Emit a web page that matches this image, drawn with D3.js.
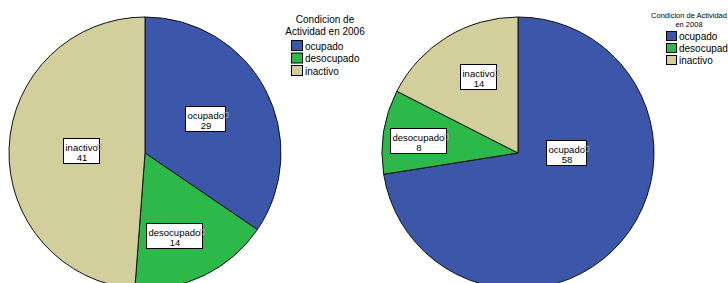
<!DOCTYPE html>
<html><head>
<meta charset="utf-8">
<title>Condicion de Actividad</title>
<script src="https://d3js.org/d3.v7.min.js"></script>
<style>
body { margin: 0; background: #fff; }
svg { display: block; font-family: 'Liberation Sans', Arial, sans-serif; }
</style>
</head>
<body>
<div id="chart"></div>
<script>
// categories and counts
var categories = ["ocupado", "desocupado", "inactivo"];
var values2006 = [29, 14, 41];
var values2008 = [58, 8, 14];
var titles = [["Condicion de", "Actividad en 2006"], ["Condicion de Actividad", "en 2008"]];
var colors = ["#3c57a9", "#2db84a", "#d3cf9c"];

var W = 728, H = 283;

// per-chart layout: pie center, radius, label spots (angle deg from north, radius fraction)
var layout = [
  {cx: 145, cy: 153, r: 136,
   labels: [[61, 0.51], [160, 0.65], [272, 0.46]],
   legend: {x: 291, y: 40, tx: 325, ty: 23, fs: 10, tfs: 10, lh: 12, step: 12.5, sw: 11}},
  {cx: 518, cy: 153, r: 136,
   labels: [[90, 0.36], [277, 0.73], [333, 0.63]],
   legend: {x: 666, y: 31, tx: 689, ty: 18, fs: 10, tfs: 7.5, lh: 8.5, step: 12, sw: 10}}
];

var svg = d3.select("#chart").append("svg")
    .attr("width", W).attr("height", H);

var color = d3.scaleOrdinal(categories, colors);

[values2006, values2008].forEach(function (vals, ci) {
  var L = layout[ci];
  var data = categories.map(function (c, i) { return {cat: c, v: vals[i], i: i}; });
  var pie = d3.pie().sort(null).value(function (d) { return d.v; });
  var arc = d3.arc().innerRadius(0).outerRadius(L.r);
  var g = svg.append("g").attr("transform", "translate(" + L.cx + "," + L.cy + ")");

  g.selectAll("path").data(pie(data)).join("path")
      .attr("d", arc)
      .attr("fill", function (d) { return color(d.data.cat); })
      .attr("stroke", "#111")
      .attr("stroke-width", 1);

  // labels
  data.forEach(function (d, i) {
    var a = L.labels[i][0] * Math.PI / 180, rr = L.labels[i][1] * L.r;
    var x = Math.round(rr * Math.sin(a)), y = Math.round(-rr * Math.cos(a));
    var lg = g.append("g").attr("transform", "translate(" + x + "," + y + ")");
    var name = lg.append("text").attr("font-size", 9.5).attr("fill", "#000")
        .attr("y", 0).text(d.cat);
    var nw = name.node().getComputedTextLength();
    var w = Math.round(nw + 4);
    name.attr("x", -w / 2 + 1.5);
    lg.append("text").attr("font-size", 9.5).attr("fill", "#000")
        .attr("text-anchor", "middle").attr("x", 0).attr("y", 9.5).text(d.v);
    lg.insert("rect", "text")
        .attr("x", -w / 2 - 0.5).attr("y", -12.5)
        .attr("width", w).attr("height", 25)
        .attr("fill", "#fff").attr("stroke", "#000").attr("stroke-width", 1);
    // small missing-glyph box after the category name
    lg.append("rect")
        .attr("x", -w / 2 + nw + 1.5).attr("y", -6.5)
        .attr("width", 4).attr("height", 5)
        .attr("fill", "none").attr("stroke", "#aaa").attr("stroke-width", 0.7);
  });

  // legend
  var lgd = L.legend;
  var tt = svg.append("text").attr("text-anchor", "middle")
      .attr("font-size", lgd.tfs).attr("fill", "#000");
  titles[ci].forEach(function (line, k) {
    tt.append("tspan").attr("x", lgd.tx).attr("y", lgd.ty + k * lgd.lh).text(line);
  });
  categories.forEach(function (c, i) {
    var y = lgd.y + i * lgd.step;
    svg.append("rect").attr("x", lgd.x + 0.5).attr("y", y + 0.5)
        .attr("width", lgd.sw).attr("height", lgd.sw - 1)
        .attr("fill", color(c)).attr("stroke", "#000").attr("stroke-width", 1);
    svg.append("text").attr("x", lgd.x + lgd.sw + 3).attr("y", y + lgd.sw - 1.5)
        .attr("font-size", lgd.fs).attr("fill", "#000").text(c);
  });
});
</script>
</body>
</html>
